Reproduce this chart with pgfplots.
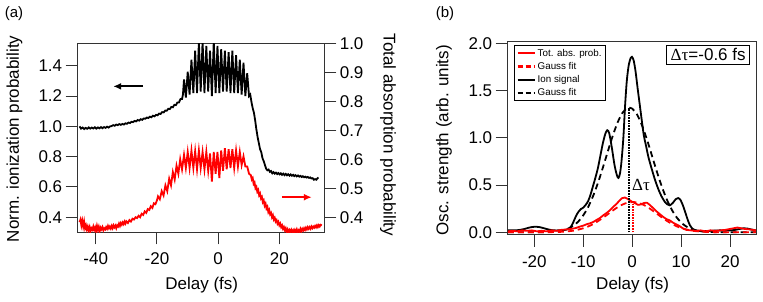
\documentclass[border=0pt]{standalone}
\usepackage{fontspec}
\setmainfont{Liberation Sans}
\newfontfamily\seriffont{Liberation Serif}
\usepackage{pgfplots}
\pgfplotsset{compat=1.18}
\usetikzlibrary{arrows.meta}
\newcommand{\bigf}{\fontsize{17bp}{20bp}\selectfont}
\begin{document}
\begin{tikzpicture}
\useasboundingbox (0,0) rectangle (763bp,302bp);
\pgfplotsset{
  base/.style={
    scale only axis,
    axis line style={black!80, line width=1bp},
    every tick/.style={black!80, line width=1bp},
    major tick length=12bp,
    tick align=outside,
    tick label style={font=\bigf},
    label style={font=\bigf},
    /pgf/number format/assume math mode=true,
  },
}
% ---------------- panel (a), left axis ----------------
\begin{axis}[base,
  at={(77.7bp,69.7bp)}, anchor=south west,
  width=246.6bp, height=189bp,
  xmin=-45.9, xmax=34.7, ymin=0.301, ymax=1.548,
  tick pos=left,
  xtick={-40,-20,0,20},
  ytick={0.4,0.6,0.8,1.0,1.2,1.4},
  yticklabel style={/pgf/number format/.cd, fixed, fixed zerofill, precision=1},
  xticklabel style={yshift=-5bp},
  xlabel={Delay (fs)},
  xlabel style={at={(axis description cs:0.503,-0.279)}, anchor=center},
  ylabel={Norm. ionization probability},
  ylabel style={at={(axis description cs:-0.256,0.494)}, anchor=center},
]
\addplot[black, line width=1.8bp] coordinates {
(-45.3,1.000) (-44.8,0.985) (-44.3,0.992) (-43.8,0.982) (-43.3,0.990) (-42.8,0.984)
(-42.3,0.993) (-41.8,0.985) (-41.3,0.992) (-40.8,0.986) (-40.3,0.994) (-39.8,0.985)
(-39.3,0.993) (-38.8,0.987) (-38.3,0.995) (-37.8,0.988) (-37.3,0.995) (-36.8,0.990)
(-36.3,0.998) (-35.8,0.992) (-35.3,1.000) (-34.8,1.002) (-34.3,1.008) (-33.8,1.004)
(-33.3,1.012) (-32.8,1.008) (-32.3,1.015) (-31.8,1.010) (-31.3,1.016) (-30.8,1.012)
(-30.3,1.020) (-29.8,1.017) (-29.3,1.025) (-28.8,1.022) (-28.3,1.030) (-27.8,1.028)
(-27.3,1.036) (-26.8,1.033) (-26.3,1.042) (-25.8,1.038) (-25.3,1.047) (-24.8,1.043)
(-24.3,1.052) (-23.8,1.050) (-23.3,1.058) (-22.8,1.055) (-22.3,1.064) (-21.8,1.060)
(-21.3,1.070) (-20.8,1.066) (-20.3,1.076) (-19.8,1.073) (-19.3,1.084) (-18.8,1.082)
(-18.3,1.094) (-17.8,1.092) (-17.3,1.104) (-16.8,1.103) (-16.3,1.116) (-15.8,1.114)
(-15.3,1.128) (-14.8,1.126) (-14.3,1.142) (-13.8,1.140) (-13.3,1.158) (-12.8,1.158)
(-12.3,1.180) (-11.8,1.180) (-11.5,1.210)
(-11.15,1.31) (-10.55,1.19) (-9.94,1.36) (-9.33,1.21) (-8.72,1.44) (-8.1,1.22)
(-7.51,1.50) (-6.9,1.22) (-6.29,1.56) (-5.7,1.23) (-5.08,1.56) (-4.47,1.22)
(-3.86,1.53) (-3.25,1.23) (-2.65,1.50) (-2.04,1.20) (-1.43,1.56) (-0.82,1.22)
(-0.22,1.53) (0.4,1.22) (1.0,1.51) (1.6,1.23) (2.2,1.50) (2.8,1.23)
(3.43,1.49) (4.04,1.22) (4.65,1.50) (5.25,1.22) (5.86,1.47) (6.47,1.22)
(7.08,1.44) (7.68,1.21) (8.29,1.42) (8.9,1.20) (9.5,1.35) (10.1,1.20)
(10.5,1.21) (10.9,1.16) (11.3,1.12) (11.7,1.09) (12.1,1.04) (12.5,0.98)
(12.9,0.93) (13.3,0.89) (13.7,0.85) (14.1,0.83) (14.5,0.79) (14.9,0.77)
(15.3,0.745) (15.7,0.72) (16.1,0.71) (16.5,0.715) (16.9,0.70) (17.3,0.705)
(17.7,0.69) (18.1,0.698) (18.5,0.688) (18.9,0.695) (19.3,0.685) (19.7,0.692)
(20.1,0.683) (20.5,0.69) (20.9,0.68) (21.3,0.688) (21.7,0.678) (22.1,0.686)
(22.5,0.677) (22.9,0.684) (23.3,0.675) (23.7,0.683) (24.1,0.674) (24.5,0.68)
(24.9,0.672) (25.3,0.678) (25.7,0.67) (26.1,0.676) (26.5,0.668) (26.9,0.673)
(27.3,0.666) (27.7,0.671) (28.1,0.664) (28.5,0.668) (28.9,0.662) (29.3,0.666)
(29.7,0.66) (30.1,0.663) (30.5,0.656) (30.9,0.658) (31.3,0.648) (31.7,0.652)
(32.1,0.648) (32.5,0.658) (32.8,0.662)
};
\draw[black, line width=2.2bp, -{Latex[length=8bp,width=7bp]}] (axis cs:-24.5,1.264) -- (axis cs:-34.3,1.264);
\end{axis}
% ---------------- panel (a), right axis ----------------
\begin{axis}[base,
  at={(77.7bp,69.7bp)}, anchor=south west,
  width=246.6bp, height=189bp,
  xmin=-45.9, xmax=34.7, ymin=0.348, ymax=1.0,
  axis x line=none, axis y line*=right,
  ytick={0.4,0.5,0.6,0.7,0.8,0.9,1.0},
  yticklabel style={/pgf/number format/.cd, fixed, fixed zerofill, precision=1},
  ylabel={Total absorption probability},
  ylabel style={at={(axis description cs:1.258,0.515)}, anchor=center, rotate=180},
]
\addplot[red, line width=1.8bp] coordinates {
(-45.3,0.383) (-45.0,0.392) (-44.7,0.372) (-44.4,0.388) (-44.1,0.368) (-43.8,0.385)
(-43.5,0.362) (-43.2,0.372) (-42.9,0.357) (-42.6,0.368) (-42.3,0.355) (-42.0,0.366)
(-41.7,0.352) (-41.4,0.362) (-41.1,0.357) (-40.8,0.368) (-40.5,0.356) (-40.2,0.365)
(-39.9,0.352) (-39.6,0.370) (-39.3,0.356) (-39.0,0.367) (-38.7,0.352) (-38.4,0.364)
(-38.1,0.358) (-37.8,0.366) (-37.5,0.355) (-37.2,0.362) (-36.9,0.358) (-36.6,0.366)
(-36.3,0.360) (-36.0,0.370) (-35.7,0.362) (-35.4,0.368) (-35.1,0.361) (-34.8,0.370)
(-34.5,0.362) (-34.2,0.372) (-33.9,0.365) (-33.6,0.371) (-33.3,0.362) (-33.0,0.372)
(-32.7,0.368) (-32.4,0.378) (-32.1,0.370) (-31.8,0.380) (-31.5,0.374) (-31.2,0.382)
(-30.9,0.376) (-30.6,0.385) (-30.3,0.378) (-30.0,0.386) (-29.5,0.380) (-29.0,0.390)
(-28.5,0.385) (-28.0,0.395) (-27.5,0.392) (-27.0,0.400) (-26.5,0.397) (-26.0,0.405)
(-25.5,0.400) (-25.0,0.412) (-24.5,0.408) (-24.0,0.420) (-23.5,0.415) (-23.0,0.428)
(-22.5,0.425) (-22.0,0.438) (-21.5,0.432) (-21.0,0.448) (-20.5,0.445) (-20.0,0.458)
(-19.66,0.472) (-19.06,0.462) (-18.44,0.490) (-17.84,0.475) (-17.23,0.510) (-16.63,0.490)
(-16.0,0.533) (-15.4,0.510) (-14.8,0.556) (-14.2,0.530) (-13.6,0.578) (-13.0,0.550)
(-12.4,0.600) (-11.8,0.565) (-11.15,0.615) (-10.55,0.570) (-9.94,0.625) (-9.33,0.570)
(-8.72,0.630) (-8.1,0.570) (-7.51,0.628) (-6.9,0.565) (-6.29,0.630) (-5.7,0.570)
(-5.08,0.625) (-4.47,0.565) (-3.86,0.625) (-3.25,0.560) (-2.65,0.620) (-2.04,0.523)
(-1.43,0.625) (-0.82,0.550) (-0.22,0.625) (0.4,0.535) (1.0,0.630) (1.6,0.560)
(2.2,0.638) (2.8,0.565) (3.43,0.635) (4.04,0.570) (4.65,0.635) (5.25,0.570)
(5.86,0.630) (6.47,0.575) (7.08,0.625) (7.68,0.580) (8.29,0.610) (8.9,0.575)
(9.5,0.575) (10.1,0.550)
(10.7,0.545) (11.0,0.530) (11.3,0.535) (11.6,0.515) (11.9,0.520) (12.2,0.500)
(12.5,0.505) (12.8,0.488) (13.1,0.494) (13.4,0.476) (13.7,0.482) (14.0,0.465)
(14.3,0.470) (14.6,0.452) (14.9,0.458) (15.2,0.440) (15.5,0.447) (15.8,0.430)
(16.1,0.436) (16.4,0.418) (16.7,0.425) (17.0,0.410) (17.3,0.415) (17.6,0.400)
(17.9,0.407) (18.2,0.392) (18.5,0.398) (18.8,0.385) (19.1,0.390) (19.4,0.378)
(19.7,0.384) (20.0,0.372) (20.3,0.378) (20.6,0.366) (20.9,0.372) (21.2,0.360)
(21.5,0.366) (21.8,0.355) (22.1,0.362) (22.4,0.350) (22.7,0.358) (23.0,0.348)
(23.3,0.356) (23.6,0.350) (23.9,0.357) (24.2,0.348) (24.5,0.355) (24.8,0.346)
(25.1,0.356) (25.4,0.350) (25.7,0.358) (26.0,0.348) (26.3,0.355) (26.6,0.350)
(26.9,0.360) (27.2,0.352) (27.5,0.360) (27.8,0.354) (28.1,0.362) (28.4,0.356)
(28.7,0.364) (29.0,0.358) (29.3,0.366) (29.6,0.360) (29.9,0.366) (30.2,0.360)
(30.5,0.368) (30.8,0.362) (31.1,0.368) (31.4,0.364) (31.7,0.370) (32.0,0.365)
(32.3,0.372) (32.6,0.366) (32.9,0.373) (33.2,0.368) (33.5,0.374) (33.9,0.372)
};
\draw[red, line width=2.2bp, -{Latex[length=8bp,width=7bp]}] (axis cs:20.8,0.469) -- (axis cs:30.6,0.469);
\end{axis}
% ---------------- panel (b) ----------------
\begin{axis}[base,
  at={(507.7bp,67bp)}, anchor=south west,
  width=248.3bp, height=193bp,
  xmin=-25.44, xmax=25.31, ymin=-0.029, ymax=2.014,
  tick pos=left,
  xtick={-20,-10,0,10,20},
  ytick={0,0.5,1.0,1.5,2.0},
  yticklabel style={/pgf/number format/.cd, fixed, fixed zerofill, precision=1},
  xticklabel style={yshift=-5bp},
  xlabel={Delay (fs)},
  xlabel style={at={(axis description cs:0.503,-0.259)}, anchor=center},
  ylabel={Osc. strength (arb. units)},
  ylabel style={at={(axis description cs:-0.2566,0.491)}, anchor=center},
  legend style={at={(axis description cs:0.027,0.983)}, anchor=north west,
    font=\fontsize{9.8bp}{11bp}\selectfont, draw=black,
    inner xsep=2bp, inner ysep=1.5bp, row sep=0.6bp, cells={anchor=west}, fill=white},
  legend image code/.code={\draw[#1] (0bp,0bp) -- (17bp,0bp);},
  legend image post style={line width=2.1bp},
]
\addlegendimage{red}
\addlegendentry{Tot. abs. prob.}
\addlegendimage{red, dash pattern=on 5bp off 3bp}
\addlegendentry{Gauss fit}
\addlegendimage{black}
\addlegendentry{Ion signal}
\addlegendimage{black, dash pattern=on 5bp off 3bp}
\addlegendentry{Gauss fit}
% black dashed Gauss fit
\addplot[black, line width=1.8bp, dash pattern=on 6bp off 4bp, smooth, forget plot] coordinates {
(-25.4,0) (-18,0.001) (-16,0.006) (-14,0.023) (-13,0.041) (-12,0.070) (-11,0.114)
(-10,0.179) (-9,0.267) (-8,0.382) (-7,0.522) (-6,0.682) (-5,0.852) (-4,1.016)
(-3,1.159) (-2,1.263) (-1,1.315) (-0.6,1.32) (0,1.309) (1,1.246) (2,1.133)
(3,0.985) (4,0.818) (5,0.649) (6,0.493) (7,0.357) (8,0.248) (9,0.164)
(10,0.104) (11,0.063) (12,0.036) (13,0.020) (14,0.011) (16,0.003) (18,0.001) (25.3,0)
};
% black solid ion signal
\addplot[black, line width=1.8bp, smooth, forget plot] coordinates {
(-25.4,0.02) (-24,0.02) (-23,0.025) (-22,0.035) (-21,0.05) (-20,0.058) (-19,0.055)
(-18,0.042) (-17,0.028) (-16,0.02) (-15,0.02) (-14,0.022) (-13,0.035) (-12.5,0.06)
(-12,0.11) (-11.5,0.17) (-11,0.215) (-10.5,0.245) (-10,0.26) (-9.5,0.29) (-9,0.33)
(-8.5,0.40) (-8,0.49) (-7.5,0.58) (-7,0.68) (-6.5,0.81) (-6,0.94) (-5.5,1.04)
(-5.1,1.08) (-4.7,1.05) (-4.2,0.91) (-3.6,0.71) (-3.1,0.60) (-2.8,0.575) (-2.5,0.62)
(-2.2,0.74) (-1.8,1.0) (-1.46,1.33) (-1.1,1.6) (-0.7,1.77) (-0.3,1.845) (-0.05,1.857)
(0.3,1.82) (0.7,1.70) (1.1,1.53) (1.6,1.33) (2.0,1.17) (2.4,1.02) (2.9,0.90)
(3.3,0.80) (4.0,0.67) (4.7,0.55) (5.4,0.45) (6.0,0.38) (6.7,0.32) (7.2,0.295)
(7.7,0.285) (8.3,0.31) (8.9,0.35) (9.4,0.362) (9.9,0.34) (10.4,0.28) (10.8,0.22)
(11.3,0.14) (11.8,0.075) (12.4,0.035) (13.2,0.018) (14,0.012) (15,0.012) (16,0.015)
(17,0.018) (18,0.02) (19,0.018) (20,0.02) (21,0.025) (22,0.035) (22.7,0.042)
(23.5,0.04) (24.3,0.03) (25.3,0.02)
};
% red dashed Gauss fit
\addplot[red, line width=1.8bp, dash pattern=on 6bp off 4bp, smooth, forget plot] coordinates {
(-25.4,0) (-18,0.001) (-16,0.002) (-14,0.006) (-12,0.017) (-10,0.042) (-9,0.061)
(-8,0.086) (-7,0.117) (-6,0.152) (-5,0.190) (-4,0.229) (-3,0.264) (-2,0.293)
(-1,0.312) (0,0.32) (1,0.315) (2,0.298) (3,0.271) (4,0.236) (5,0.198)
(6,0.160) (7,0.124) (8,0.092) (9,0.066) (10,0.045) (12,0.019) (14,0.007)
(16,0.002) (18,0.001) (25.3,0)
};
% red solid total absorption probability
\addplot[red, line width=1.8bp, forget plot] coordinates {
(-25.4,0.01) (-24.5,0.015) (-23.5,0.01) (-22.5,0.02) (-21.5,0.015) (-20.5,0.02)
(-19.5,0.01) (-18.5,0.015) (-17.5,0.01) (-16.5,0.02) (-15.5,0.015) (-14.5,0.025)
(-13.5,0.03) (-12.5,0.035) (-11.5,0.045) (-10.7,0.06) (-10,0.07) (-9.3,0.085)
(-8.6,0.095) (-7.9,0.11) (-7.3,0.13) (-6.6,0.15) (-5.9,0.18) (-5.2,0.205)
(-4.5,0.235) (-3.85,0.27) (-3.2,0.30) (-2.6,0.335) (-2.1,0.36) (-1.5,0.368)
(-1,0.355) (-0.5,0.34) (-0.1,0.325) (0.5,0.31) (1.2,0.29) (1.8,0.295) (2.4,0.31)
(3.0,0.313) (3.6,0.29) (4.3,0.255) (5,0.22) (5.7,0.19) (6.4,0.16) (7,0.14)
(7.7,0.125) (8.4,0.10) (9,0.085) (9.7,0.065) (10.4,0.04) (11.1,0.025) (12,0.02)
(13,0.015) (14,0.02) (15,0.01) (16,0.02) (17,0.015) (18,0.02) (19,0.025)
(20,0.035) (21,0.045) (21.5,0.05) (22,0.045) (23,0.035) (24,0.03) (25.3,0.02)
};
% dotted markers of the fit centres
\addplot[black, line width=1.7bp, densely dotted, forget plot] coordinates {(-0.6,0) (-0.6,1.32)};
\addplot[red, line width=1.7bp, densely dotted, forget plot] coordinates {(0.1,0) (0.1,0.32)};
\node[font=\bigf\seriffont, anchor=center] at (axis cs:1.8,0.50) {Δτ};
\node[draw=black, line width=0.8bp, fill=white, anchor=north east, inner xsep=4bp, inner ysep=3bp, font=\bigf]
  at (axis description cs:0.976,0.983) {{\seriffont Δτ}=-0.6 fs};
\end{axis}
\node[font=\fontsize{15bp}{18bp}\selectfont] at (14bp,288bp) {(a)};
\node[font=\fontsize{15bp}{18bp}\selectfont] at (445bp,288bp) {(b)};
\end{tikzpicture}
\end{document}
